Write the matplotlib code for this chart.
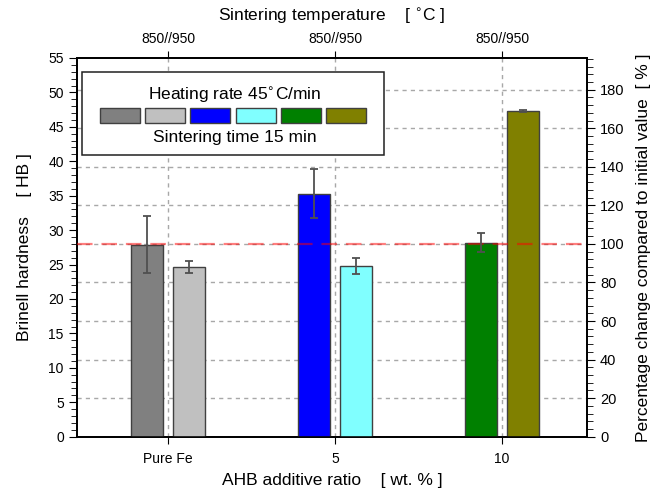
import matplotlib
matplotlib.use("Agg")
from matplotlib import pyplot as plt
from matplotlib.patches import Rectangle
from matplotlib.ticker import MultipleLocator
import numpy as np

plt.rcParams["font.family"] = ["Liberation Sans", "DejaVu Sans"]

# data
groups = ["Pure Fe", "5", "10"]
temp_labels = ["850//950", "850//950", "850//950"]
hb_850 = [27.9, 35.3, 28.2]
err_850 = [4.1, 3.55, 1.4]
hb_950 = [24.6, 24.85, 47.3]
err_950 = [0.85, 1.15, 0.15]
colors_850 = ["#808080", "#0000ff", "#008000"]
colors_950 = ["#c0c0c0", "#80ffff", "#808000"]
legend_colors = ["#808080", "#c0c0c0", "#0000ff", "#80ffff", "#008000", "#808000"]
ref_hb = 28.0   # 100 % reference (Pure Fe)

fig = plt.figure(figsize=(6.64, 4.91), dpi=100)
ax = fig.add_axes([0.116, 0.1106, 0.7676, 0.7713])
ax2 = ax.twinx()
ax3 = ax.twiny()

x = np.arange(len(groups))
w = 0.19
off = 0.125

ax.bar(x - off, hb_850, w, color=colors_850, edgecolor="#404040", linewidth=1, zorder=2)
ax.bar(x + off, hb_950, w, color=colors_950, edgecolor="#404040", linewidth=1, zorder=2)
ax.axhline(ref_hb, color="red", alpha=0.5, lw=1.6, dashes=(7, 4), zorder=3)
ax.errorbar(x - off, hb_850, yerr=err_850, fmt="none", ecolor="#505050",
            elinewidth=1.3, capsize=3, capthick=1.3, zorder=4)
ax.errorbar(x + off, hb_950, yerr=err_950, fmt="none", ecolor="#505050",
            elinewidth=1.3, capsize=3, capthick=1.3, zorder=4)

xlim = (-0.545, 2.507)
ax.set_xlim(xlim)
ax.set_ylim(0, 55)
ax.set_xticks(x)
ax.set_xticklabels(groups, fontsize=10)
ax.yaxis.set_major_locator(MultipleLocator(5))
ax.yaxis.set_minor_locator(MultipleLocator(1))
ax.tick_params(axis="y", which="major", length=6, direction="out", labelsize=10)
ax.tick_params(axis="y", which="minor", length=4, direction="out")
ax.tick_params(axis="x", length=5, direction="out", pad=6)
ax.set_xlabel("AHB additive ratio    [ wt. % ]", fontsize=12.5, labelpad=5)
ax.set_ylabel("Brinell hardness    [ HB ]", fontsize=12.5, labelpad=12)

# right axis: percentage of initial value
ax2.set_ylim(0, 55 / ref_hb * 100)
ax2.yaxis.set_major_locator(MultipleLocator(20))
ax2.yaxis.set_minor_locator(MultipleLocator(4))
ax2.tick_params(axis="y", which="major", length=6, direction="out", labelsize=10.5)
ax2.tick_params(axis="y", which="minor", length=4, direction="out")
ax2.set_ylabel("Percentage change compared to initial value  [ % ]", fontsize=12.5, labelpad=8)
ax2.grid(axis="y", color="#a8a8a8", lw=1, dashes=(3, 3))

# top axis
ax3.set_xlim(xlim)
ax3.set_xticks(x)
ax3.set_xticklabels(temp_labels, fontsize=10)
ax3.tick_params(axis="x", length=5, direction="out")
ax3.set_xlabel("Sintering temperature    [ $^{\\circ}$C ]", fontsize=12.5, labelpad=8)
ax3.grid(axis="x", color="#a8a8a8", lw=1, dashes=(3, 3))

ax2.set_zorder(0)
ax3.set_zorder(1)
ax3.patch.set_visible(False)
ax.set_zorder(2)
ax.patch.set_visible(False)

for a in (ax, ax2, ax3):
    for s in a.spines.values():
        s.set_linewidth(1.1)

# legend box
ax.add_patch(Rectangle((0.009, 0.744), 0.593, 0.218, transform=ax.transAxes,
                       facecolor="white", edgecolor="#202020", lw=1.1, zorder=5))
for i, c in enumerate(legend_colors):
    ax.add_patch(Rectangle((0.0451 + i * 0.0887, 0.828), 0.0785, 0.0396,
                           transform=ax.transAxes, facecolor=c,
                           edgecolor="#404040", lw=1, zorder=6))
ax.text(0.31, 0.903, "Heating rate 45$^{\\circ}$C/min", transform=ax.transAxes,
        ha="center", va="center", fontsize=12.5, zorder=7)
ax.text(0.31, 0.789, "Sintering time 15 min", transform=ax.transAxes,
        ha="center", va="center", fontsize=12.5, zorder=7)

fig.savefig("out.png", dpi=100)
